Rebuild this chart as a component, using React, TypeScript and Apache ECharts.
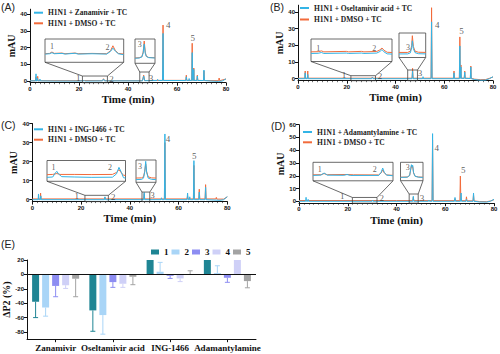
import React, { useEffect, useRef } from "react";
import * as echarts from "echarts";

const BLUE = "#33b4e6";
const ORANGE = "#f26b3b";
const SERIF = "'Liberation Serif', 'Times New Roman', serif";
const SANS = "'Liberation Sans', Arial, sans-serif";
const DMSO = "H1N1 + DMSO + TC";

// ---------- Panel A : Zanamivir ----------
const A_NAME = "H1N1 + Zanamivir + TC";
const A_BLUE = [[0,0.1],[2.3,0.1],[2.45,4.3],[2.6,0],[2.9,0.2],[3.05,1.6],[3.2,0.1],[3.9,0.1],[4.05,1.2],[4.2,0.1],[10,0],[20,0],[22.3,0.2],[22.7,0],[29.6,0.1],[30.0,1.2],[30.4,0.1],[45.9,0.1],[46.4,3.0],[46.8,0.2],[51.8,0.3],[52.1,1],[52.4,0.3],[54.1,0.3],[54.3,28.5],[54.5,0.3],[63.6,0.3],[63.8,2.5],[64.0,0.3],[64.8,0.3],[64.95,1.5],[65.1,0.3],[66.0,0.3],[66.2,17],[66.4,0.3],[66.7,0.3],[66.85,7],[67.0,0.3],[68.1,0.3],[68.3,3],[68.5,0.3],[70.8,0.3],[71.0,6.6],[71.2,0.3],[74,0],[77,-0.2],[78.5,0],[80,1.3]];
const A_ORANGE = [[0,0.2],[2.3,0.2],[2.45,2.5],[2.6,0.2],[3.0,0.2],[3.15,2.8],[3.3,0.2],[20,0.2],[22.3,0.3],[29.6,0.2],[30.0,1.4],[30.4,0.2],[45.9,0.2],[46.4,3.5],[46.8,0.3],[54.1,0.4],[54.3,33.5],[54.5,0.4],[63.6,0.4],[63.8,3.5],[64.0,0.4],[66.0,0.4],[66.2,22.6],[66.4,0.4],[66.7,0.4],[66.85,7.8],[67.0,0.4],[68.1,0.4],[68.3,3.5],[68.5,0.4],[70.8,0.3],[71.0,6],[71.2,0.3],[77.0,0.2],[77.2,1.8],[77.4,0.2],[80,1.2]];
const A_PEAKS = [{ name: "1", value: [19.7, 1.8] },{ name: "2", value: [33.3, 1.4] },{ name: "3", value: [49.4, 2.0] },{ name: "4", value: [56.4, 33.5] },{ name: "5", value: [66.4, 26] }];
const A1_BLUE = [[21.4,0],[22.0,0.05],[22.3,0.2],[22.6,0.05],[23.6,0.1],[24.0,0],[25.3,0.12],[25.7,0],[27.5,0.05],[29.4,0],[29.9,0.4],[30.2,0.87],[30.5,0.45],[30.9,0.05],[31.6,-0.1]];
const A1_ORANGE = [[21.4,0.05],[22.0,0.1],[22.3,0.3],[22.6,0.1],[23.6,0.15],[24.0,0.05],[25.3,0.15],[25.7,0.05],[27.5,0.1],[29.4,0.05],[29.9,0.5],[30.2,1.21],[30.5,0.55],[30.9,0.1],[31.6,0]];
const A1_LABELS = [{ name: "1", value: [22.3, 1.08] },{ name: "2", value: [29.5, 1.03] }];
const A3_BLUE = [[44.8,0],[45.6,0.05],[46.1,0.25],[46.35,1.0],[46.55,2.8],[46.75,1.0],[46.95,0.35],[47.4,0.12],[48.6,0.05]];
const A3_ORANGE = [[44.8,0.05],[45.6,0.1],[46.1,0.3],[46.35,1.2],[46.55,3.4],[46.75,1.2],[46.95,0.4],[47.4,0.15],[48.6,0.1]];
const A3_LABELS = [{ name: "3", value: [45.7, 2.74] }];

// ---------- Panel B : Oseltamivir acid ----------
const B_NAME = "H1N1 + Oseltamivir acid + TC";
const B_BLUE = [[0,0],[2.8,0],[2.95,3.5],[3.1,0],[3.85,0],[4.0,2.5],[4.15,0],[30.2,0],[30.5,0.8],[30.8,0],[46.8,0],[47.0,4.6],[47.2,0],[51.1,0],[51.3,1.2],[51.5,0],[54.6,0],[54.8,34],[55.0,0],[63.8,0],[64.0,3.5],[64.2,0],[66.2,0],[66.4,19.6],[66.6,0.2],[66.7,0.2],[66.85,7],[67.0,0.2],[68.2,0.2],[68.4,4],[68.6,0.2],[70.7,0.1],[70.9,7],[71.1,0],[72.5,-0.5],[75,-0.9],[77,-0.8],[78.5,0],[80,1.2]];
const B_ORANGE = [[0,0.3],[2.8,0.3],[2.95,4.6],[3.1,0.3],[3.85,0.3],[4.0,4.6],[4.15,0.3],[30.2,0.3],[30.5,1.0],[30.8,0.3],[46.8,0.3],[47.0,6.2],[47.2,0.3],[54.6,0.3],[54.8,42.5],[55.0,0.3],[63.8,0.3],[64.0,4.6],[64.2,0.3],[66.2,0.3],[66.4,25],[66.6,0.3],[66.7,0.3],[66.85,8.2],[67.0,0.3],[68.2,0.3],[68.4,4.6],[68.6,0.3],[70.7,0.2],[70.9,7.6],[71.1,0.2],[72.5,-0.3],[75,-0.6],[77,-0.5],[78.5,0.2],[80,1.0]];
const B_PEAKS = [{ name: "1", value: [18.9, 2.0] },{ name: "2", value: [33.6, 1.8] },{ name: "3", value: [50.0, 3.2] },{ name: "4", value: [57.1, 32] },{ name: "5", value: [67.1, 28.5] }];
const B1_BLUE = [[21.7,0],[22.6,0.02],[23.0,0.12],[23.3,0],[26.1,0.05],[26.4,0],[28.0,0.05],[28.3,0],[29.9,0.05],[30.3,0.25],[30.55,0.48],[30.8,0.2],[31.2,-0.05],[31.8,-0.08]];
const B1_ORANGE = [[21.7,0.2],[22.6,0.22],[23.0,0.32],[23.3,0.2],[26.1,0.26],[26.4,0.2],[28.0,0.26],[28.3,0.2],[29.9,0.25],[30.3,0.45],[30.55,0.68],[30.8,0.4],[31.2,0.15],[31.8,0.12]];
const B1_LABELS = [{ name: "1", value: [22.6, 0.68] },{ name: "2", value: [29.6, 0.68] }];
const B3_BLUE = [[45,0.05],[46.3,0.05],[46.7,0.3],[46.9,1.5],[47.0,3.15],[47.15,1.3],[47.4,0.35],[47.9,0.1],[49,0.05]];
const B3_ORANGE = [[45,0.4],[46.3,0.4],[46.7,0.7],[46.9,2.0],[47.0,4.36],[47.15,1.8],[47.4,0.7],[47.9,0.45],[49,0.4]];
const B3_LABELS = [{ name: "3", value: [46.35, 1.46] }];

// ---------- Panel C : ING-1466 ----------
const C_NAME = "H1N1 + ING-1466 + TC";
const C_BLUE = [[0,0],[2.4,0],[2.55,3],[2.7,0],[3.35,0],[3.5,2],[3.65,0],[29.6,0],[29.8,1.5],[30.0,0],[45.7,0],[45.9,3.8],[46.1,0],[52.8,0],[53,1],[53.2,0],[54.2,0],[54.4,34.5],[54.6,0],[63.5,0],[63.7,3.5],[63.9,0],[64.45,0],[64.6,1.5],[64.75,0],[66.1,0],[66.3,20.5],[66.5,0],[68.3,0],[68.5,4],[68.7,0],[70.9,0],[71.1,6.5],[71.3,0],[77,-0.3],[78.5,0],[80,1.6]];
const C_ORANGE = [[0,0.4],[3.25,0.4],[3.4,3.5],[3.55,0.4],[29.6,0.4],[29.8,1.2],[30.0,0.4],[45.7,0.4],[45.9,3.2],[46.1,0.4],[54.2,0.4],[54.4,30],[54.6,0.4],[63.5,0.4],[63.7,2],[63.9,0.4],[66.1,0.4],[66.3,18],[66.5,0.4],[68.3,0.4],[68.5,5.5],[68.7,0.4],[70.9,0.4],[71.1,7.9],[71.3,0.4],[75.3,0.4],[75.5,1.2],[75.7,0.3],[78.5,0.3],[80,1.5]];
const C_PEAKS = [{ name: "1", value: [18.2, 1.8] },{ name: "2", value: [33.2, 1.3] },{ name: "3", value: [49.3, 2.3] },{ name: "4", value: [55.7, 32] },{ name: "5", value: [66.4, 22.8] }];
const C1_BLUE = [[21.6,0],[22.3,0.05],[22.6,0.6],[22.8,0.87],[23.0,0.5],[23.4,0.1],[25,0.05],[27,0],[29.6,0.02],[30.1,0.5],[30.4,1.44],[30.7,0.7],[30.95,-0.05],[31.2,-0.1]];
const C1_ORANGE = [[21.6,0.39],[22.3,0.42],[22.8,0.55],[23.2,0.42],[25,0.42],[27,0.4],[29.6,0.42],[30.1,0.7],[30.4,1.11],[30.7,0.65],[30.95,0.3],[31.2,0.28]];
const C1_LABELS = [{ name: "1", value: [22.4, 1.35] },{ name: "2", value: [29.3, 1.35] }];
const C3_BLUE = [[45,0],[45.9,0.05],[46.2,0.3],[46.4,1.6],[46.55,3.69],[46.7,1.5],[46.95,0.3],[47.5,0.05],[48.2,0]];
const C3_ORANGE = [[45,0.32],[45.9,0.35],[46.2,0.6],[46.4,1.7],[46.55,3.2],[46.7,1.6],[46.95,0.55],[47.5,0.35],[48.2,0.32]];
const C3_LABELS = [{ name: "3", value: [45.64, 2.7] }];

// ---------- Panel D : Adamantylamine ----------
const D_NAME = "H1N1 + Adamantylamine + TC";
const D_BLUE = [[0,0],[2.75,0],[2.9,3.1],[3.05,0],[3.6,0],[3.75,1.5],[3.9,0],[30.0,0],[30.2,1],[30.4,0],[46.7,0],[46.9,3.9],[47.1,0],[53.1,0],[53.3,1],[53.5,0],[54.6,0],[54.8,53],[55.0,0],[63.8,0],[64.0,3],[64.2,0],[66.3,0],[66.5,6.5],[66.7,0],[68.5,0],[68.7,1.5],[68.9,0],[71.4,0],[71.6,6.5],[71.8,0],[74,-0.5],[77,-0.6],[78.5,0],[80,1.5]];
const D_ORANGE = [[0,0.6],[40,0.6],[46.7,0.6],[46.9,3.2],[47.1,0.6],[54.6,0.5],[54.8,48],[55,0.5],[63.8,0.5],[64.0,2],[64.2,0.5],[66.0,0.5],[66.2,19.8],[66.4,0.5],[68.5,0.4],[68.7,3.5],[68.9,0.4],[71.4,0.3],[71.6,5],[71.8,0.3],[74,-0.2],[77,-0.3],[78.5,0.2],[80,1.3]];
const D_PEAKS = [{ name: "1", value: [17.7, 4.4] },{ name: "2", value: [33.9, 2.6] },{ name: "3", value: [50.5, 2.6] },{ name: "4", value: [56.5, 42] },{ name: "5", value: [67.4, 24.7] }];
const D1_BLUE = [[21.9,0],[22.9,0.05],[23.3,0.39],[23.7,0.05],[25.8,0.02],[26.2,0.15],[26.6,0],[30.2,0],[30.5,0.5],[30.7,1.2],[30.9,0.5],[31.2,0.05],[32,-0.05]];
const D1_ORANGE = [[21.9,0.1],[22.9,0.12],[23.3,0.3],[23.7,0.12],[26.2,0.15],[27,0.1],[30.2,0.08],[30.5,0.4],[30.7,0.9],[30.9,0.4],[31.2,0.08],[32,0.02]];
const D1_LABELS = [{ name: "1", value: [22.75, 0.93] },{ name: "2", value: [29.7, 0.93] }];
const D3_BLUE = [[45.2,0],[46.3,0.05],[46.7,0.5],[46.9,2.5],[47.0,3.45],[47.1,2.9],[47.2,3.3],[47.35,1.3],[47.6,0.3],[48.2,0.05],[48.9,0]];
const D3_ORANGE = [[45.2,0.05],[46.3,0.1],[46.7,0.5],[46.9,2.3],[47.0,3.2],[47.1,2.7],[47.2,3.0],[47.35,1.2],[47.6,0.3],[48.2,0.1],[48.9,0.05]];
const D3_LABELS = [{ name: "3", value: [46.4, 2.75] }];

// ---------- Panel E : ΔP2 bar chart ----------
const E_CATS = ["Zanamivir", "Oseltamivir acid", "ING-1466", "Adamantylamine"];
const E_GROUPS = ["1", "2", "3", "4", "5"];
const E_MEAN_1 = [-38, -50, 20, 20];
const E_SD_1 = [22, 29, 0, 0];
const E_MEAN_2 = [-46, -56.5, 3.7, 1.8];
const E_SD_2 = [12, 26.5, 13, 10.2];
const E_MEAN_3 = [-16, -10.7, -2, -4.7];
const E_SD_3 = [15, 7.3, 3.6, 6.3];
const E_MEAN_4 = [-15, -13, -5.6, 20];
const E_SD_4 = [4.5, 5, 4.4, 0];
const E_MEAN_5 = [-6, -3.3, 0.5, -9.3];
const E_SD_5 = [25, 11, 4.5, 9.3];
const E_COLORS = ["#1f8594", "#a9d5f7", "#8d8df2", "#cfd0f7", "#a3a3a3"];
const E_Y_TICKS = [-80, -60, -40, -20, 0, 20];

const PANELS = [
  {
    letter: "(A)", letterPos: [1, 1], name: A_NAME, blue: A_BLUE, orange: A_ORANGE, peaks: A_PEAKS,
    grid: { left: 30, top: 9.2, width: 196, height: 73.5 }, yMin: -1, yMax: 43, yTicks: [0, 10, 20, 30, 40],
    legend: { left: 34, top: 8.7, gap: 2.6 },
    insets: [
      { box: { left: 45, top: 39, width: 78.7, height: 23.3 }, x: [21.4, 31.6], y: [-1.2, 2.2], rectTop: 3, blue: A1_BLUE, orange: A1_ORANGE, labels: A1_LABELS },
      { box: { left: 135, top: 39, width: 20, height: 24.3 }, x: [44.8, 48.6], y: [-1, 3.8], rectTop: 5.4, blue: A3_BLUE, orange: A3_ORANGE, labels: A3_LABELS },
    ],
  },
  {
    letter: "(B)", letterPos: [270, 1], name: B_NAME, blue: B_BLUE, orange: B_ORANGE, peaks: B_PEAKS,
    grid: { left: 298, top: 5.2, width: 195, height: 75.5 }, yMin: -1.2, yMax: 44, yTicks: [0, 10, 20, 30, 40],
    legend: { left: 300, top: 4, gap: 3.5 },
    insets: [
      { box: { left: 311, top: 39, width: 81, height: 22.5 }, x: [21.7, 31.8], y: [-1, 1.8], rectTop: 1.8, blue: B1_BLUE, orange: B1_ORANGE, labels: B1_LABELS },
      { box: { left: 399, top: 33, width: 26.7, height: 24.5 }, x: [45, 49], y: [-0.8, 5], rectTop: 5.2, blue: B3_BLUE, orange: B3_ORANGE, labels: B3_LABELS },
    ],
  },
  {
    letter: "(C)", letterPos: [1, 119], name: C_NAME, blue: C_BLUE, orange: C_ORANGE, peaks: C_PEAKS,
    grid: { left: 32.3, top: 123.5, width: 195, height: 78.1 }, yMin: -1, yMax: 40, yTicks: [0, 10, 20, 30, 40],
    legend: { left: 34, top: 125.3, gap: 2.4 },
    insets: [
      { box: { left: 47, top: 160.5, width: 78.5, height: 20.8 }, x: [21.6, 31.2], y: [-0.57, 2.43], rectTop: 2.3, blue: C1_BLUE, orange: C1_ORANGE, labels: C1_LABELS },
      { box: { left: 136, top: 160, width: 20, height: 22.3 }, x: [45, 48.2], y: [-0.54, 3.96], rectTop: 4, blue: C3_BLUE, orange: C3_ORANGE, labels: C3_LABELS },
    ],
  },
  {
    letter: "(D)", letterPos: [271, 120], name: D_NAME, blue: D_BLUE, orange: D_ORANGE, peaks: D_PEAKS,
    grid: { left: 299, top: 124.7, width: 195, height: 78.5 }, yMin: -1.5, yMax: 60, yTicks: [0, 10, 20, 30, 40, 50, 60],
    legend: { left: 303, top: 128, gap: 2.3 },
    insets: [
      { box: { left: 313, top: 162.3, width: 80, height: 18.5 }, x: [21.9, 32], y: [-0.87, 2.13], rectTop: 3, blue: D1_BLUE, orange: D1_ORANGE, labels: D1_LABELS },
      { box: { left: 400.5, top: 162.3, width: 22.5, height: 18.4 }, x: [45.2, 48.9], y: [-0.9, 4.1], rectTop: 5.7, blue: D3_BLUE, orange: D3_ORANGE, labels: D3_LABELS },
    ],
  },
];

const E_MEANS = [E_MEAN_1, E_MEAN_2, E_MEAN_3, E_MEAN_4, E_MEAN_5];
const E_SDS = [E_SD_1, E_SD_2, E_SD_3, E_SD_4, E_SD_5];
const BAR_W = 7;
const BAR_GAP = 0.43;

function buildOption() {
  const grid: any[] = [];
  const xAxis: any[] = [];
  const yAxis: any[] = [];
  const series: any[] = [];
  const legend: any[] = [];
  const axisLineStyle = { color: "#111", width: 1 };
  const tickLabel = { fontSize: 6, fontWeight: "bold", fontFamily: SANS, color: "#111" };

  PANELS.forEach((P, p) => {
    const gi = p * 3;
    grid.push({ ...P.grid, outerBoundsMode: "none", containLabel: false });
    xAxis.push({
      type: "value", gridIndex: gi, min: 0, max: 80, interval: 20,
      axisLine: { show: true, onZero: false, lineStyle: axisLineStyle },
      axisTick: { show: true, length: 3, lineStyle: axisLineStyle },
      minorTick: { show: true, splitNumber: 10, length: 1.5, lineStyle: { color: "#111", width: 0.6 } },
      axisLabel: { ...tickLabel, margin: 3 },
      splitLine: { show: false },
      name: "Time (min)", nameLocation: "middle", nameGap: 11,
      nameTextStyle: { fontFamily: SERIF, fontWeight: "bold", fontSize: 11, color: "#111" },
    });
    yAxis.push({
      type: "value", gridIndex: gi, min: P.yMin, max: P.yMax,
      axisLine: { show: true, onZero: false, lineStyle: axisLineStyle },
      axisTick: { show: true, length: 3, lineStyle: axisLineStyle, customValues: P.yTicks },
      axisLabel: { ...tickLabel, margin: 3, customValues: P.yTicks },
      splitLine: { show: false },
      name: "mAU", nameLocation: "middle", nameGap: 11,
      nameTextStyle: { fontFamily: SERIF, fontWeight: "bold", fontSize: 10, color: "#111" },
    });
    series.push({ type: "line", name: DMSO, xAxisIndex: gi, yAxisIndex: gi, data: P.orange, showSymbol: false, symbol: "none", lineStyle: { width: 1, color: ORANGE }, itemStyle: { color: ORANGE }, z: 2 });
    series.push({ type: "line", name: P.name, xAxisIndex: gi, yAxisIndex: gi, data: P.blue, showSymbol: false, symbol: "none", lineStyle: { width: 1, color: BLUE }, itemStyle: { color: BLUE }, z: 3 });
    series.push({
      type: "scatter", name: "peaks" + p, xAxisIndex: gi, yAxisIndex: gi, data: P.peaks, symbolSize: 0, silent: true,
      label: { show: true, position: "inside", formatter: "{b}", fontFamily: SERIF, fontSize: 9, color: "#333" }, z: 4,
    });
    legend.push({
      left: P.legend.left, top: P.legend.top, orient: "vertical", padding: 0, itemGap: P.legend.gap,
      itemWidth: 9, itemHeight: 2, icon: "rect", selectedMode: false,
      data: [P.name, DMSO],
      textStyle: { fontFamily: SERIF, fontWeight: "bold", fontSize: 7.5, color: "#222", lineHeight: 8 },
    });

    P.insets.forEach((ins, k) => {
      const ig = gi + 1 + k;
      grid.push({ ...ins.box, show: true, borderColor: "#444", borderWidth: 0.8, backgroundColor: "#fff", outerBoundsMode: "none", containLabel: false });
      xAxis.push({ type: "value", gridIndex: ig, min: ins.x[0], max: ins.x[1], show: false });
      yAxis.push({ type: "value", gridIndex: ig, min: ins.y[0], max: ins.y[1], show: false });
      series.push({ type: "line", name: DMSO, xAxisIndex: ig, yAxisIndex: ig, data: ins.orange, showSymbol: false, symbol: "none", lineStyle: { width: 1, color: ORANGE }, itemStyle: { color: ORANGE }, z: 5 });
      series.push({ type: "line", name: P.name, xAxisIndex: ig, yAxisIndex: ig, data: ins.blue, showSymbol: false, symbol: "none", lineStyle: { width: 1, color: BLUE }, itemStyle: { color: BLUE }, z: 6 });
      series.push({
        type: "scatter", name: "inlab" + p + k, xAxisIndex: ig, yAxisIndex: ig, data: ins.labels, symbolSize: 0, silent: true,
        label: { show: true, position: "inside", formatter: "{b}", fontFamily: SERIF, fontSize: 8, color: "#333" }, z: 7,
      });
    });
  });

  // Panel E
  const ge = 12;
  grid.push({ left: 27, top: 260, width: 229, height: 79.2, outerBoundsMode: "none", containLabel: false });
  xAxis.push({
    type: "category", gridIndex: ge, data: E_CATS,
    axisLine: { show: true, onZero: false, lineStyle: axisLineStyle },
    axisTick: { show: true, alignWithLabel: true, length: 3, lineStyle: axisLineStyle },
    axisLabel: { interval: 0, fontFamily: SERIF, fontWeight: "bold", fontSize: 9, color: "#111", margin: 4 },
    splitLine: { show: false },
  });
  yAxis.push({
    type: "value", gridIndex: ge, min: -90, max: 20,
    axisLine: { show: true, onZero: false, lineStyle: axisLineStyle },
    axisTick: { show: true, length: 3, lineStyle: axisLineStyle, customValues: E_Y_TICKS },
    axisLabel: { ...tickLabel, margin: 3, customValues: E_Y_TICKS },
    splitLine: { show: false },
    name: "ΔP2 (%)", nameLocation: "middle", nameGap: 13,
    nameTextStyle: { fontFamily: SERIF, fontWeight: "bold", fontSize: 10, color: "#111" },
  });
  E_GROUPS.forEach((g, k) => {
    series.push({
      type: "bar", name: g, xAxisIndex: ge, yAxisIndex: ge, data: E_MEANS[k], barWidth: BAR_W, barGap: Math.round(BAR_GAP * 100) + "%",
      itemStyle: { color: E_COLORS[k] }, z: 2,
      markLine: k === 0 ? {
        silent: true, symbol: ["none", "none"], label: { show: false },
        lineStyle: { color: "#111", width: 1, type: "solid" }, data: [{ yAxis: 0 }],
      } : undefined,
    });
  });
  E_GROUPS.forEach((g, k) => {
    const off = (k - 2) * BAR_W * (1 + BAR_GAP);
    const color = E_COLORS[k];
    series.push({
      type: "custom", name: "err" + g, xAxisIndex: ge, yAxisIndex: ge, silent: true, z: 3,
      data: E_MEANS[k].map((m, i) => [i, m, E_SDS[k][i]]),
      renderItem: (params: any, api: any) => {
        const ci = api.value(0), m = api.value(1), sd = api.value(2);
        if (!sd) return null;
        const end = m + (m >= 0 ? sd : -sd);
        const a = api.coord([ci, m]);
        const b = api.coord([ci, end]);
        const x = a[0] + off;
        return {
          type: "group",
          children: [
            { type: "line", shape: { x1: x, y1: a[1], x2: x, y2: b[1] }, style: { stroke: color, lineWidth: 1 } },
            { type: "line", shape: { x1: x - 2.5, y1: b[1], x2: x + 2.5, y2: b[1] }, style: { stroke: color, lineWidth: 1 } },
          ],
        };
      },
    });
  });
  legend.push({
    left: 151, top: 247, orient: "horizontal", padding: 0, itemGap: 3, itemWidth: 8, itemHeight: 5, icon: "rect",
    selectedMode: false, data: E_GROUPS,
    textStyle: { fontFamily: SERIF, fontWeight: "bold", fontSize: 9, color: "#111", lineHeight: 10 },
  });

  return { animation: false, backgroundColor: "#fff", grid, xAxis, yAxis, series, legend };
}

export default function App() {
  const ref = useRef<HTMLDivElement>(null);
  useEffect(() => {
    document.body.style.margin = "0";
    if (!ref.current) return;
    const chart = echarts.init(ref.current, null, { renderer: "svg" });
    chart.setOption(buildOption() as any);

    const graphic: any[] = [];
    PANELS.forEach((P, p) => {
      graphic.push({
        type: "text", x: P.letterPos[0], y: P.letterPos[1],
        style: { text: P.letter, fontFamily: SANS, fontSize: 10.5, fill: "#222" },
      });
      const gi = p * 3;
      P.insets.forEach((ins) => {
        const tl = chart.convertToPixel({ gridIndex: gi } as any, [ins.x[0], ins.rectTop]) as number[];
        const br = chart.convertToPixel({ gridIndex: gi } as any, [ins.x[1], P.yMin]) as number[];
        const stroke = { stroke: "#444", lineWidth: 0.8 };
        graphic.push({ type: "rect", shape: { x: tl[0], y: tl[1], width: br[0] - tl[0], height: br[1] - tl[1] }, style: { fill: "transparent", ...stroke }, z: 50 });
        const b = ins.box;
        graphic.push({ type: "line", shape: { x1: b.left, y1: b.top + b.height, x2: tl[0], y2: tl[1] }, style: stroke, z: 50 });
        graphic.push({ type: "line", shape: { x1: b.left + b.width, y1: b.top + b.height, x2: br[0], y2: tl[1] }, style: stroke, z: 50 });
      });
    });
    graphic.push({ type: "text", x: 1, y: 238, style: { text: "(E)", fontFamily: SANS, fontSize: 10.5, fill: "#222" } });
    chart.setOption({ graphic });

    return () => chart.dispose();
  }, []);
  return <div ref={ref} style={{ position: "absolute", left: 0, top: 0, width: 500, height: 354 }} />;
}
